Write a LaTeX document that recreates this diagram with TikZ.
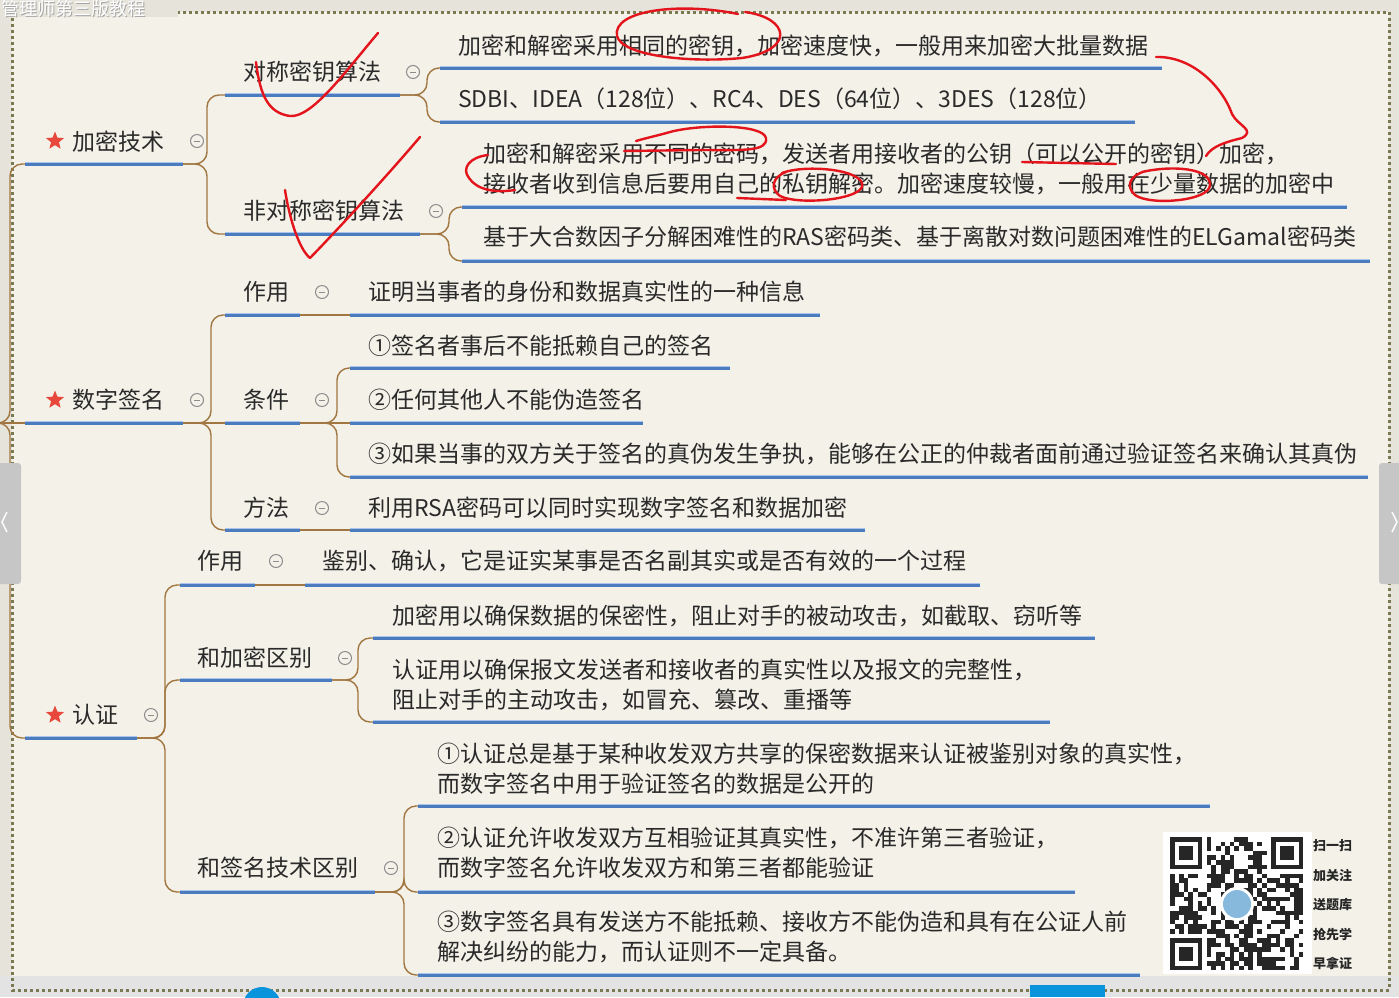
\documentclass[tikz,border=0pt]{standalone}
\usepackage{fontspec}
\setmainfont{Noto Sans CJK SC}
\usetikzlibrary{shapes.geometric}
\definecolor{bgout}{HTML}{E6E4DA}
\definecolor{bgin}{HTML}{F3F1E8}
\definecolor{ulblue}{HTML}{4A7CBF}
\definecolor{ulhi}{HTML}{A9C6EA}
\definecolor{brn}{HTML}{A27640}
\definecolor{txt}{HTML}{2A2A2A}
\definecolor{dotc}{HTML}{7A7A52}
\definecolor{annred}{HTML}{E3141B}
\definecolor{starred}{HTML}{E8473B}
\definecolor{collg}{HTML}{8C8C8C}
\definecolor{qrlogoc}{HTML}{86B9DC}
\tikzset{
  lbl/.style={anchor=west, inner sep=0pt, text=txt, font=\fontsize{23}{30}\selectfont, align=left},
  conn/.style={draw=brn, line width=1.4pt, rounded corners=12pt},
  collc/.style={circle, draw=collg, line width=1pt, minimum size=13pt, inner sep=0pt, fill=bgin,
    path picture={\draw[collg, line width=1pt] ([xshift=-3pt]path picture bounding box.center) -- ([xshift=3pt]path picture bounding box.center);}},
  starnode/.style={star, star points=5, star point ratio=2.3, fill=starred, minimum size=19pt, inner sep=0pt},
  ann/.style={draw=annred, line width=2.4pt, line cap=round, line join=round},
}
\newcommand\topic[7]{%
  \coordinate (#1-l) at (#4,#6);
  \coordinate (#1-r) at (#5,#6);
  \node[lbl] (#1) at (#2,#3) {#7};
  \draw[ulblue, line width=4pt] (#1-l) -- (#1-r);
  \draw[ulhi, line width=1pt] ([yshift=1.7pt]#1-l) -- ([yshift=1.7pt]#1-r);
}
\begin{document}
\begin{tikzpicture}[x=1pt,y=-1pt]
\useasboundingbox (0,0) rectangle (1399,997);
\fill[bgout] (0,0) rectangle (1399,997);
\fill[bgin] (12,12) rectangle (1389,988);
\fill[gray!22] (0,976) rectangle (1399,997);
\draw[dotc, line width=3pt, dash pattern=on 3pt off 3pt] (12,12) rectangle (1389,990);

% ---------------- root level ----------------
\node[starnode] (st1) at (55,141) {};
\node[starnode] (st2) at (55,400) {};
\node[starnode] (st3) at (55,715) {};
\topic{r1}{72}{142}{25}{183}{164}{加密技术}
\topic{r2}{72}{400}{25}{183}{423}{数字签名}
\topic{r3}{72}{715}{25}{137}{738}{认证}
\node[collc] (r1c) at (197,141) {};
\node[collc] (r2c) at (197,400) {};
\node[collc] (r3c) at (151,715) {};
\coordinate (root) at (0,423);
\coordinate (trunk) at (10,423);
\draw[conn] (root) -- (trunk) |- (r1-l);
\draw[conn] (root) -- (trunk) |- (r3-l);
\draw[conn] (root) -- (r2-l);

% ---------------- 加密技术 ----------------
\topic{a1}{243}{72}{225}{400}{95}{对称密钥算法}
\topic{a2}{243}{211}{225}{420}{234}{非对称密钥算法}
\node[collc] (a1c) at (413,72) {};
\node[collc] (a2c) at (436,211) {};
\coordinate (r1-b) at (207,164);
\draw[conn] (r1-r) -- (r1-b) |- (a1-l);
\draw[conn] (r1-r) -- (r1-b) |- (a2-l);

\topic{a11}{458}{46}{440}{1162}{68}{加密和解密采用相同的密钥，加密速度快，一般用来加密大批量数据}
\topic{a12}{458}{99}{440}{1135}{122}{SDBI、IDEA（128位）、RC4、DES（64位）、3DES（128位）}
\coordinate (a1-b) at (427,95);
\draw[conn] (a1-r) -- (a1-b) |- (a11-l);
\draw[conn] (a1-r) -- (a1-b) |- (a12-l);

\topic{a21}{483}{169}{462}{1347}{207}{加密和解密采用不同的密码，发送者用接收者的公钥（可以公开的密钥）加密，\\接收者收到信息后要用自己的私钥解密。加密速度较慢，一般用在少量数据的加密中}
\topic{a22}{483}{237}{462}{1370}{261}{基于大合数因子分解困难性的RAS密码类、基于离散对数问题困难性的ELGamal密码类}
\coordinate (a2-b) at (449,234);
\draw[conn] (a2-r) -- (a2-b) |- (a21-l);
\draw[conn] (a2-r) -- (a2-b) |- (a22-l);

% ---------------- 数字签名 ----------------
\topic{s1}{243}{292}{225}{300}{315}{作用}
\topic{s2}{243}{400}{225}{300}{423}{条件}
\topic{s3}{243}{508}{225}{300}{530}{方法}
\node[collc] (s1c) at (322,292) {};
\node[collc] (s2c) at (322,400) {};
\node[collc] (s3c) at (322,508) {};
\coordinate (r2-b) at (211,423);
\draw[conn] (r2-r) -- (r2-b) |- (s1-l);
\draw[conn] (r2-r) -- (s2-l);
\draw[conn] (r2-r) -- (r2-b) |- (s3-l);

\topic{s11}{368}{292}{350}{820}{315}{证明当事者的身份和数据真实性的一种信息}
\draw[conn] (s1-r) -- (s11-l);
\topic{s21}{368}{346}{350}{730}{368}{①签名者事后不能抵赖自己的签名}
\topic{s22}{368}{400}{350}{643}{423}{②任何其他人不能伪造签名}
\topic{s23}{368}{454}{350}{1368}{477}{③如果当事的双方关于签名的真伪发生争执，能够在公正的仲裁者面前通过验证签名来确认其真伪}
\coordinate (s2-b) at (337,423);
\draw[conn] (s2-r) -- (s2-b) |- (s21-l);
\draw[conn] (s2-r) -- (s22-l);
\draw[conn] (s2-r) -- (s2-b) |- (s23-l);
\topic{s31}{368}{508}{350}{865}{530}{利用RSA密码可以同时实现数字签名和数据加密}
\draw[conn] (s3-r) -- (s31-l);

% ---------------- 认证 ----------------
\topic{c1}{197}{561}{180}{255}{585}{作用}
\topic{c2}{197}{658}{180}{332}{680}{和加密区别}
\topic{c3}{197}{868}{180}{375}{892}{和签名技术区别}
\node[collc] (c1c) at (276,561) {};
\node[collc] (c2c) at (345,658) {};
\node[collc] (c3c) at (391,868) {};
\coordinate (r3-b) at (165,738);
\draw[conn] (r3-r) -- (r3-b) |- (c1-l);
\draw[conn] (r3-r) -- (r3-b) |- (c2-l);
\draw[conn] (r3-r) -- (r3-b) |- (c3-l);

\topic{c11}{322}{561}{305}{980}{585}{鉴别、确认，它是证实某事是否名副其实或是否有效的一个过程}
\draw[conn] (c1-r) -- (c11-l);

\topic{c21}{392}{616}{373}{1095}{638}{加密用以确保数据的保密性，阻止对手的被动攻击，如截取、窃听等}
\topic{c22}{392}{685}{373}{1050}{722}{认证用以确保报文发送者和接收者的真实性以及报文的完整性，\\阻止对手的主动攻击，如冒充、篡改、重播等}
\coordinate (c2-b) at (358,680);
\draw[conn] (c2-r) -- (c2-b) |- (c21-l);
\draw[conn] (c2-r) -- (c2-b) |- (c22-l);

\topic{c31}{437}{769}{418}{1210}{806}{①认证总是基于某种收发双方共享的保密数据来认证被鉴别对象的真实性，\\而数字签名中用于验证签名的数据是公开的}
\topic{c32}{437}{853}{418}{1075}{892}{②认证允许收发双方互相验证其真实性，不准许第三者验证，\\而数字签名允许收发双方和第三者都能验证}
\topic{c33}{437}{937}{418}{1140}{975}{③数字签名具有发送方不能抵赖、接收方不能伪造和具有在公证人前\\解决纠纷的能力，而认证则不一定具备。}
\coordinate (c3-b) at (404,892);
\draw[conn] (c3-r) -- (c3-b) |- (c31-l);
\draw[conn] (c3-r) -- (c3-b) |- (c32-l);
\draw[conn] (c3-r) -- (c3-b) |- (c33-l);

% ---------------- QR code ----------------
\fill[white] (1163,832) rectangle (1312,974);
\begin{scope}[shift={(1170,837)}]
  \pgfmathsetseed{4242}
  \foreach \i in {0,...,28}{
    \foreach \j in {0,...,28}{
      \pgfmathtruncatemacro\qbit{(rnd<0.52)&&!((\i<8&&\j<8)||(\i>20&&\j<8)||(\i<8&&\j>20))}
      \ifnum\qbit=1 \fill[black!85] (\i*4.6,\j*4.6) rectangle ++(4.6,4.6);\fi
    }
  }
  \foreach \fx/\fy in {0/0,22/0,0/22}{
    \fill[black!85] (\fx*4.6,\fy*4.6) rectangle ++(32.2,32.2);
    \fill[white] (\fx*4.6+4.6,\fy*4.6+4.6) rectangle ++(23,23);
    \fill[black!85] (\fx*4.6+9.2,\fy*4.6+9.2) rectangle ++(13.8,13.8);
  }
\end{scope}
\node[circle, fill=white, minimum size=34pt, inner sep=0pt] (qrlogo0) at (1237,904) {};
\node[circle, fill=qrlogoc, minimum size=28pt, inner sep=0pt] (qrlogo) at (1237,904) {};
\begin{scope}[every node/.style={anchor=west, inner sep=0pt, text=black!85, font=\bfseries\fontsize{13}{13}\selectfont}]
\node (q1) at (1313,846) {扫一扫};
\node (q2) at (1313,876) {加关注};
\node (q3) at (1313,905) {送题库};
\node (q4) at (1313,934) {抢先学};
\node (q5) at (1313,963) {早拿证};
\end{scope}

% ---------------- overlay bits ----------------
\fill[gray!45, rounded corners=3pt] (-4,463) rectangle (21,584);
\fill[gray!45, rounded corners=3pt] (1379,463) rectangle (1403,584);
\draw[white, line width=1.5pt] (7,512) -- (2,522) -- (7,532);
\draw[white, line width=1.5pt] (1392,512) -- (1397,522) -- (1392,532);
\fill[cyan!80!blue] (1030,985) rectangle (1105,997);
\fill[cyan!80!blue] (262,1006) circle (19);
\fill[bgout] (0,0) rectangle (178,17);
\node[anchor=west, inner sep=0pt, text=gray!70, font=\fontsize{18}{18}\selectfont] (title0) at (2,10) {管理师第三版教程};
\node[anchor=west, inner sep=0pt, text=white, font=\fontsize{18}{18}\selectfont] (title) at (1,9) {管理师第三版教程};

% ---------------- red annotations ----------------
\draw[ann] (256,62) .. controls (260,95) and (268,113) .. (290,116) .. controls (312,118) and (345,72) .. (378,33);
\draw[ann] (285,190) .. controls (290,222) and (300,250) .. (310,258) .. controls (345,222) and (392,170) .. (420,137);
\draw[ann] (738,14) .. controls (680,2) and (612,10) .. (617,36) .. controls (622,56) and (690,63) .. (742,58) .. controls (795,50) and (790,18) .. (745,12);
\draw[ann] (1156,57) .. controls (1192,56) and (1222,86) .. (1232,114) .. controls (1238,126) and (1256,130) .. (1242,138) .. controls (1226,142) and (1212,146) .. (1206,156);
\draw[ann] (624,151) -- (700,150) .. controls (742,150) and (768,152) .. (766,138) .. controls (763,124) and (700,124) .. (670,132) .. controls (656,136) and (646,138) .. (636,141);
\draw[ann] (488,155) .. controls (470,157) and (461,168) .. (469,178) .. controls (477,190) and (495,193) .. (515,190);
\draw[ann] (1022,162) -- (1116,164);
\draw[ann] (782,173) .. controls (802,165) and (856,168) .. (862,183) .. controls (868,199) and (800,206) .. (780,196) .. controls (770,189) and (772,177) .. (786,172);
\draw[ann] (737,198) -- (786,200);
\draw[ann] (1142,172) .. controls (1172,165) and (1211,168) .. (1210,185) .. controls (1210,201) and (1150,206) .. (1135,195) .. controls (1125,186) and (1130,175) .. (1146,171);
\end{tikzpicture}
\end{document}
